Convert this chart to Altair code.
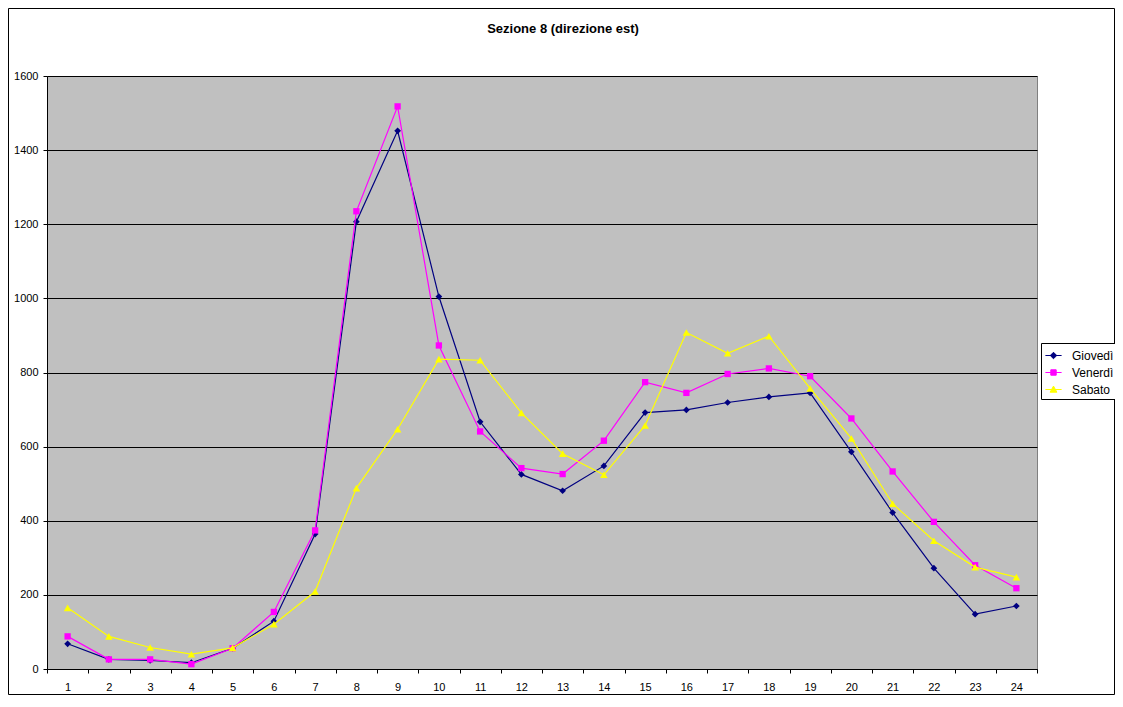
import altair as alt
import pandas as pd

ore = list(range(1, 25))
serie = ["Giovedì", "Venerdì", "Sabato"]
giovedi = [68, 26, 23, 17, 56, 129, 364, 1207, 1452, 1005, 667, 525, 481, 548, 692, 699, 719, 734, 745, 586, 422, 272, 148, 170]
venerdi = [88, 26, 26, 13, 56, 154, 374, 1235, 1518, 873, 641, 542, 526, 616, 774, 745, 796, 811, 790, 676, 533, 397, 280, 218]
sabato = [165, 88, 58, 40, 57, 121, 209, 488, 647, 836, 833, 691, 581, 524, 657, 908, 852, 898, 757, 622, 446, 346, 275, 248]
colori = ["#000080", "#FF00FF", "#FFFF00"]
forme = ["diamond", "square", "triangle-up"]
dimensioni = [45, 40, 58]
simboli_legenda = [
    "M-0.9,0H0.9M0,-0.36L0.36,0L0,0.36L-0.36,0Z",
    "M-0.9,0H0.9M-0.3,-0.3H0.3V0.3H-0.3Z",
    "M-0.9,0H0.9M0,-0.38L0.38,0.3H-0.38Z",
]

rows = []
for nome, vals in zip(serie, [giovedi, venerdi, sabato]):
    for o, v in zip(ore, vals):
        rows.append({"ora": o, "serie": nome, "valore": v})
df = pd.DataFrame(rows)

FONT = "Liberation Sans"
PW, PH = 990, 593
PAD_L, PAD_T, PAD_R, PAD_B = 39, 68, 78, 26

x_enc = alt.X(
    "ora:O",
    bandPosition=0.5,
    scale=alt.Scale(type="band", paddingInner=0, paddingOuter=0, domain=ore),
    axis=alt.Axis(
        title=None, labelAngle=0, tickBand="extent", grid=False, tickSize=4,
        labelPadding=8, labelFontSize=11, labelFont=FONT, labelColor="black",
        domainColor="black", tickColor="black", labelBaseline="top",
    ),
)
y_enc = alt.Y(
    "valore:Q",
    scale=alt.Scale(domain=[0, 1600], nice=False, zero=True),
    axis=alt.Axis(
        title=None, values=list(range(0, 1601, 200)), format="d", grid=True,
        gridColor="black", gridOpacity=1, gridWidth=1, tickSize=4, labelPadding=5,
        labelFontSize=11, labelFont=FONT, labelColor="black", domainColor="black",
        tickColor="black",
    ),
)

base = alt.Chart(df)

layers = []
for nome, col, forma, dim in zip(serie, colori, forme, dimensioni):
    sub = base.transform_filter(alt.datum.serie == nome)
    layers.append(
        sub.mark_line(strokeWidth=1.2, color=col).encode(x=x_enc, y=y_enc, order=alt.Order("ora:O"))
    )
    layers.append(
        sub.mark_point(filled=True, opacity=1, color=col, shape=forma, size=dim).encode(x=x_enc, y=y_enc)
    )

leg = alt.Legend(
    title=None, orient="none", legendX=PW + 4, legendY=267,
    symbolSize=324, symbolStrokeWidth=1, symbolOpacity=1,
    labelFontSize=12, labelFont=FONT, labelColor="black", labelOffset=9,
    padding=3, rowPadding=1, strokeColor="black", fillColor="white",
)

legenda = base.transform_filter("false").mark_point(filled=True, strokeWidth=1).encode(
    x=x_enc, y=y_enc,
    fill=alt.Fill("serie:N", scale=alt.Scale(domain=serie, range=colori), legend=leg),
    stroke=alt.Stroke("serie:N", scale=alt.Scale(domain=serie, range=colori), legend=leg),
    shape=alt.Shape("serie:N", scale=alt.Scale(domain=serie, range=simboli_legenda), legend=leg),
)
layers.append(legenda)

bordo = alt.Chart(alt.Data(values=[{"k": 1}])).mark_rect(
    filled=False, stroke="black", strokeWidth=1
).encode(
    x=alt.value(-PAD_L + 0.5), x2=alt.value(PW + PAD_R - 0.5),
    y=alt.value(-PAD_T + 0.5), y2=alt.value(PH + PAD_B - 0.5),
)
layers.append(bordo)

chart = alt.layer(*layers).properties(
    width=PW, height=PH,
    autosize=alt.AutoSizeParams(type="none"),
    padding={"left": PAD_L, "top": PAD_T, "right": PAD_R, "bottom": PAD_B},
    background="white",
    title=alt.TitleParams(
        "Sezione 8 (direzione est)", font=FONT, fontSize=13, fontWeight="bold",
        color="black", anchor="middle", frame="group", dx=21, offset=-41,
        baseline="bottom",
    ),
).configure_view(fill="#C0C0C0", stroke="#808080", strokeWidth=1)

chart.save("out.html", embed_options={"renderer": "svg", "actions": False})
